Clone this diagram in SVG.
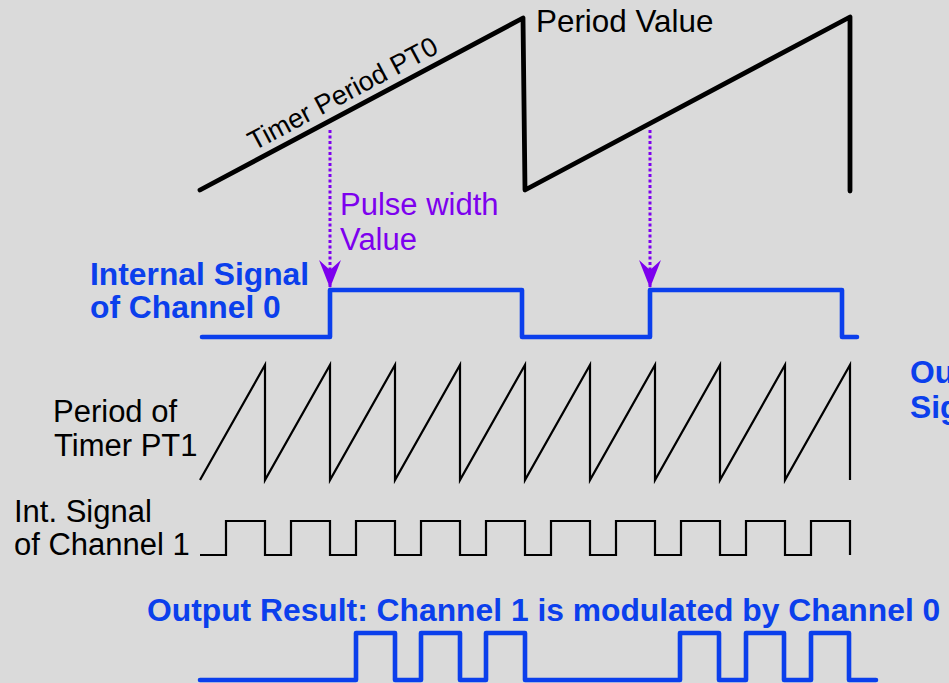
<svg xmlns="http://www.w3.org/2000/svg" width="949" height="683" viewBox="0 0 949 683">
<style>
text{font-family:"Liberation Sans",Arial,sans-serif;font-size:31px}
.blk{fill:#000}
.blu{fill:#0b3fec;font-weight:bold;font-size:31.8px}
.pur{fill:#7d00ee}
.thick{fill:none;stroke:#000;stroke-width:4.8;stroke-linejoin:round;stroke-linecap:round}
.thin{fill:none;stroke:#000;stroke-width:2.2;stroke-linejoin:miter;stroke-linecap:butt}
.sig{fill:none;stroke:#0b3fec;stroke-width:4.6;stroke-linejoin:round;stroke-linecap:round}
.dot{fill:none;stroke:#7d00ee;stroke-width:3;stroke-dasharray:3 2.5}
</style>
<defs>
<marker id="ah" viewBox="0 0 28 22" refX="28" refY="11" markerWidth="28" markerHeight="22" markerUnits="userSpaceOnUse" orient="auto">
<path d="M0,0 L28,11 L0,22 L10,11 Z" fill="#7d00ee"/>
</marker>
</defs>
<rect width="949" height="683" fill="#dadada"/>

<g id="timer-pt0">
<path class="thick" d="M200,190 L523,18 L525,190 L850,17 L850,191"/>
<text class="blk" transform="translate(254,151) rotate(-28)" style="font-size:27px">Timer Period PT0</text>
<text class="blk" x="536" y="32" style="font-size:31.4px">Period Value</text>
</g>

<g id="pulse-width-label">
<text class="pur" x="340" y="215">Pulse width</text>
<text class="pur" x="340" y="250">Value</text>
</g>

<g id="channel0">
<text class="blu" x="90" y="285">Internal Signal</text>
<text class="blu" x="90" y="318">of Channel 0</text>
<path class="sig" d="M202,337 L330,337 L330,290 L522,290 L522,337 L650,337 L650,290 L842,290 L842,337 L857,337"/>
</g>

<g id="output-signal-label">
<text class="blu" x="910" y="383">Ou</text>
<text class="blu" x="910" y="418">Sig</text>
</g>

<g id="timer-pt1">
<text class="blk" x="53" y="422">Period of</text>
<text class="blk" x="54" y="456">Timer PT1</text>
<path class="thin" d="M200,480 L265,365 L265,480 L330,365 L330,480 L395,365 L395,480 L460,365 L460,480 L525,365 L525,480 L590,365 L590,480 L655,365 L655,480 L720,365 L720,480 L785,365 L785,480 L850,365 L850,480"/>
</g>

<g id="channel1">
<text class="blk" x="14" y="522">Int. Signal</text>
<text class="blk" x="14" y="555">of Channel 1</text>
<path class="thin" d="M200,555 L226,555 L226,521 L265,521 L265,555 L291,555 L291,521 L330,521 L330,555 L356,555 L356,521 L395,521 L395,555 L421,555 L421,521 L460,521 L460,555 L486,555 L486,521 L525,521 L525,555 L551,555 L551,521 L590,521 L590,555 L616,555 L616,521 L655,521 L655,555 L681,555 L681,521 L720,521 L720,555 L746,555 L746,521 L785,521 L785,555 L811,555 L811,521 L850,521 L850,555"/>
</g>

<g id="output-result">
<text class="blu" x="147" y="621">Output Result: Channel 1 is modulated by Channel 0</text>
<path class="sig" d="M200,680 L356,680 L356,633 L395,633 L395,680 L421,680 L421,633 L460,633 L460,680 L486,680 L486,633 L525,633 L525,680 L680,680 L680,633 L719,633 L719,680 L746,680 L746,633 L784,633 L784,680 L811,680 L811,633 L849,633 L849,680 L876,680"/>
</g>

<g id="connectors">
<line class="dot" x1="330" y1="130" x2="330" y2="288" marker-end="url(#ah)"/>
<line class="dot" x1="650" y1="130" x2="650" y2="288" marker-end="url(#ah)"/>
</g>
</svg>
